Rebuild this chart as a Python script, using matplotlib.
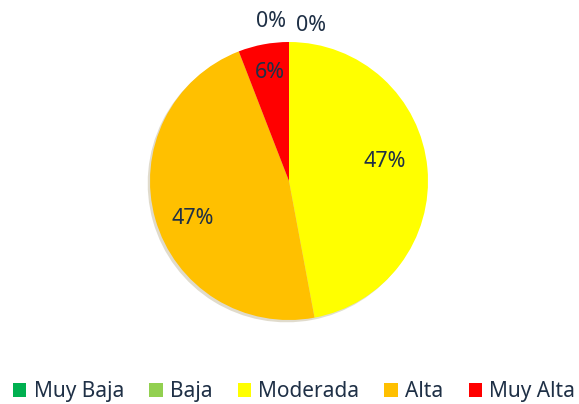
import matplotlib
matplotlib.use('Agg')
import matplotlib.pyplot as plt
from matplotlib.patches import Patch

categories = ["Muy Baja", "Baja", "Moderada", "Alta", "Muy Alta"]
counts = [0, 0, 8, 8, 1]
colors = ["#00B050", "#92D050", "#FFFF00", "#FFC000", "#FF0000"]

TEXT = "#1F3046"
plt.rcParams['font.family'] = ['Noto Sans', 'DejaVu Sans']

W, H = 579, 404
cx, cy, R = 289, 181, 139  # pixel centre and radius of the pie

fig = plt.figure(figsize=(W / 100, H / 100), dpi=100)
ax = fig.add_axes([0, 0, 1, 1])
ax.axis('off')

ax.pie(counts, colors=colors, startangle=90, counterclock=False, radius=1,
       center=(0, 0), wedgeprops=dict(linewidth=0),
       shadow=dict(ox=-0.012, oy=-0.012, shade=0.6, alpha=0.2))
ax.set_xlim(-cx / R, (W - cx) / R)
ax.set_ylim(-(H - cy) / R, cy / R)
ax.set_aspect('equal')

# label positions (pie units) for each slice
label_pos = [(-0.13, 1.15), (0.16, 1.12), (0.69, 0.14), (-0.69, -0.27), (-0.14, 0.78)]
total = sum(counts)
for c, (x, y) in zip(counts, label_pos):
    ax.text(x, y, f"{round(c / total * 100)}%", ha='center', va='center',
            fontsize=15.5, color=TEXT)

handles = [Patch(facecolor=col, edgecolor='none') for col in colors]
fig.legend(handles, categories, loc='center', ncol=5, frameon=False,
           fontsize=15, labelcolor=TEXT, handlelength=0.65, handleheight=0.65,
           handletextpad=0.35, columnspacing=1.2, borderpad=0, borderaxespad=0,
           bbox_to_anchor=(0.508, 0.03))

fig.savefig("out.png", dpi=100, facecolor="white")
